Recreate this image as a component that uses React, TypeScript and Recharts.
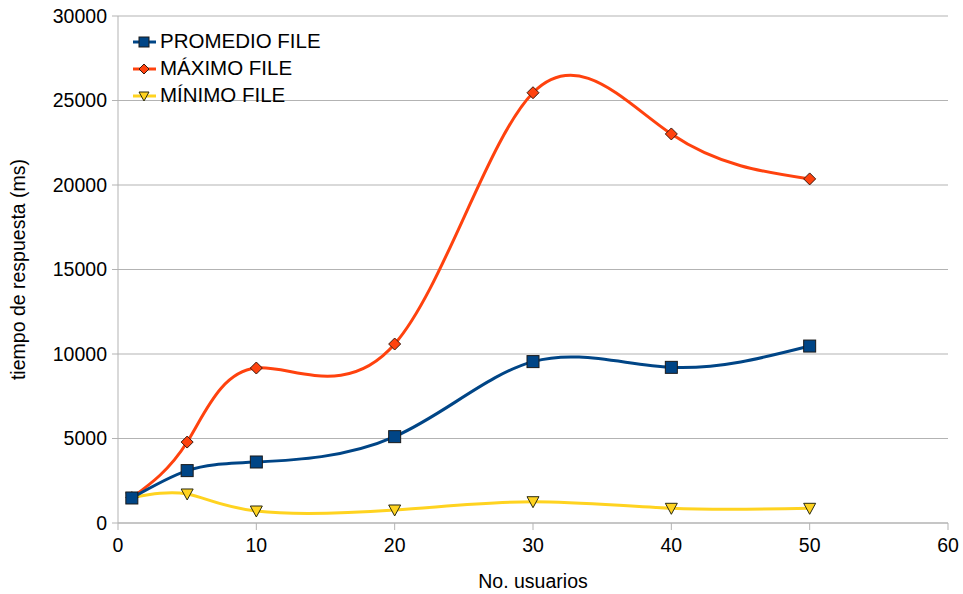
import React from "react";
import { LineChart, Line, XAxis, YAxis, CartesianGrid, Label } from "recharts";

// Users tested (x) and response times in ms for each series
const usuarios = [1, 5, 10, 20, 30, 40, 50];
const promedio = [1480, 3100, 3610, 5110, 9550, 9210, 10470];
const maximo = [1500, 4790, 9170, 10590, 25460, 23020, 20360];
const minimo = [1500, 1716, 710, 770, 1260, 870, 870];

const xTicks = [0, 10, 20, 30, 40, 50, 60];
const yTicks = [0, 5000, 10000, 15000, 20000, 25000, 30000];

const data = usuarios.map((u, i) => ({
  x: u,
  promedio: promedio[i],
  maximo: maximo[i],
  minimo: minimo[i],
}));

const BLUE = "#004586";
const ORANGE = "#ff420e";
const YELLOW = "#ffd320";
const GRID = "#b3b3b3";
const FONT = "'Liberation Sans', Arial, sans-serif";

const SquareDot = (p: any) => (
  <rect key={p.key ?? `s${p.index}`} x={p.cx - 6} y={p.cy - 6} width={12} height={12} fill={BLUE} stroke="#1a1a1a" strokeWidth={1} />
);
const DiamondDot = (p: any) => (
  <polygon
    key={p.key ?? `d${p.index}`}
    points={`${p.cx},${p.cy - 6} ${p.cx + 6},${p.cy} ${p.cx},${p.cy + 6} ${p.cx - 6},${p.cy}`}
    fill={ORANGE}
    stroke="#3a1a10"
    strokeWidth={1}
  />
);
const TriangleDot = (p: any) => (
  <polygon
    key={p.key ?? `t${p.index}`}
    points={`${p.cx - 6},${p.cy - 5} ${p.cx + 6},${p.cy - 5} ${p.cx},${p.cy + 6}`}
    fill={YELLOW}
    stroke="#2a2a10"
    strokeWidth={1}
  />
);

const legendItems = [
  { name: "PROMEDIO FILE", color: BLUE, marker: "square" },
  { name: "MÁXIMO FILE", color: ORANGE, marker: "diamond" },
  { name: "MÍNIMO FILE", color: YELLOW, marker: "triangle" },
];

// Legend box drawn over the top-left corner of the plot area
const ChartLegend = () => (
  <div style={{ position: "absolute", left: 132, top: 28, fontFamily: FONT, fontSize: 20.5, color: "#000", lineHeight: 1 }}>
    {legendItems.map((it) => (
      <div key={it.name} style={{ display: "flex", alignItems: "center", height: 27 }}>
        <svg width={25} height={16} style={{ marginRight: 3 }}>
          <line x1={1} y1={8} x2={24} y2={8} stroke={it.color} strokeWidth={3} />
          {it.marker === "square" && <rect x={7} y={3} width={10} height={10} fill={it.color} stroke="#1a1a1a" />}
          {it.marker === "diamond" && <polygon points="12,3 17,8 12,13 7,8" fill={it.color} stroke="#3a1a10" />}
          {it.marker === "triangle" && <polygon points="7,4 17,4 12,13" fill={it.color} stroke="#2a2a10" />}
        </svg>
        <span>{it.name}</span>
      </div>
    ))}
  </div>
);

export default function App() {
  return (
    <div style={{ position: "absolute", left: 0, top: 0, width: 963, height: 594, background: "#fff" }}>
      <LineChart width={963} height={594} data={data} margin={{ top: 16, right: 15, bottom: 0, left: 0 }}>
        <CartesianGrid vertical={false} stroke={GRID} strokeWidth={1} />
        <XAxis
          dataKey="x"
          type="number"
          domain={[0, 60]}
          ticks={xTicks}
          height={71}
          stroke={GRID}
          tickSize={7}
          tick={{ fill: "#000", fontSize: 19.5, fontFamily: FONT }}
          tickMargin={8}
        >
          <Label value="No. usuarios" position="insideBottom" offset={6} style={{ fill: "#000", fontSize: 19.5, fontFamily: FONT }} />
        </XAxis>
        <YAxis
          type="number"
          domain={[0, 30000]}
          ticks={yTicks}
          width={118}
          stroke={GRID}
          tickSize={6}
          tickMargin={5}
          tick={{ fill: "#000", fontSize: 19.5, fontFamily: FONT }}
        >
          <Label
            value="tiempo de respuesta (ms)"
            angle={-90}
            position="insideLeft"
            offset={18}
            style={{ textAnchor: "middle", fill: "#000", fontSize: 19.5, fontFamily: FONT }}
          />
        </YAxis>
        <Line type="natural" dataKey="minimo" stroke={YELLOW} strokeWidth={3} dot={TriangleDot} isAnimationActive={false} />
        <Line type="natural" dataKey="maximo" stroke={ORANGE} strokeWidth={3} dot={DiamondDot} isAnimationActive={false} />
        <Line type="natural" dataKey="promedio" stroke={BLUE} strokeWidth={3} dot={SquareDot} isAnimationActive={false} />
      </LineChart>
      <ChartLegend />
    </div>
  );
}
